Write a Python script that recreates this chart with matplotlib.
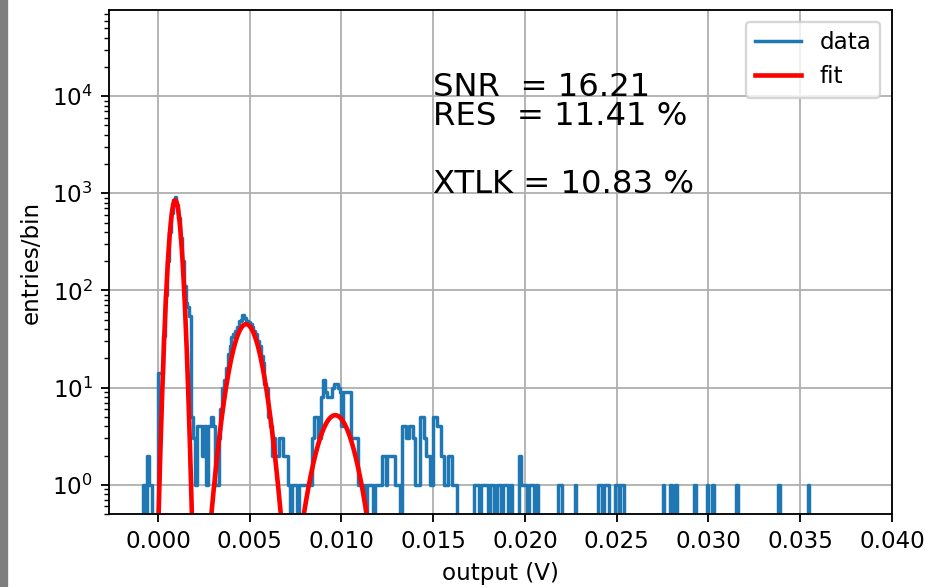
import numpy as np
import matplotlib
matplotlib.use("Agg")
import matplotlib.pyplot as plt
from matplotlib.patches import Rectangle

# ---- data (histogram, bin width 0.1 mV, first bin starts at -1.0 mV) ----
bin_start = -0.0010
bin_width = 0.0001
counts = [
    0, 0, 1, 0, 2, 1, 1, 0, 0, 0,
    14, 14, 14, 34, 90, 200, 400, 620, 850, 925,
    760, 560, 350, 200, 110, 75, 68, 55, 5, 3,
    1, 4, 4, 4, 2, 4, 1, 4, 4, 5,
    4, 1, 1, 3, 6, 10, 12, 16, 22, 27,
    33, 36, 38, 42, 48, 50, 56, 52, 48, 47,
    45, 42, 38, 36, 30, 27, 21, 18, 11, 10,
    5, 4, 2, 3, 2, 2, 3, 3, 2, 2,
    2, 1, 0, 1, 1, 1, 0, 1, 1, 1,
    1, 1, 1, 1, 3, 5, 5, 3, 3, 8,
    12, 9, 8, 8, 8, 10, 11, 11, 10, 9,
    4, 9, 9, 9, 9, 3, 3, 3, 3, 1,
    1, 1, 1, 0, 1, 1, 1, 0, 1, 1,
    1, 1, 2, 2, 1, 2, 2, 2, 2, 1,
    1, 1, 0, 4, 4, 3, 3, 4, 4, 3,
    1, 1, 1, 5, 5, 3, 2, 2, 1, 1,
    5, 5, 4, 4, 2, 2, 1, 1, 2, 2,
    1, 1, 1, 0, 0, 0, 0, 0, 0, 0,
    0, 0, 1, 1, 1, 0, 1, 1, 1, 1,
    0, 1, 1, 0, 0, 1, 1, 0, 1, 1,
    1, 0, 1, 0, 0, 0, 0, 2, 1, 1,
    1, 0, 1, 1, 1, 0, 1, 0, 0, 0,
    0, 0, 0, 0, 0, 0, 0, 0, 1, 1,
    0, 0, 0, 0, 0, 0, 0, 1, 0, 0,
    0, 0, 0, 0, 0, 0, 0, 0, 0, 0,
    1, 1, 0, 1, 1, 1, 0, 0, 0, 1,
    1, 0, 1, 1, 0, 0, 0, 0, 0, 0,
    0, 0, 0, 0, 0, 0, 0, 0, 0, 0,
    0, 0, 0, 0, 0, 1, 0, 0, 0, 1,
    0, 0, 1, 0, 0, 0, 0, 0, 0, 0,
    0, 0, 1, 0, 0, 0, 0, 0, 0, 1,
    0, 0, 1, 0, 0, 0, 0, 0, 0, 0,
    0, 0, 0, 0, 0, 1, 0, 0, 0, 0,
    0, 0, 0, 0, 0, 0, 0, 0, 0, 0,
    0, 0, 0, 0, 0, 0, 0, 0, 1, 0,
    0, 0, 0, 0, 0, 0, 0, 0, 0, 0,
    0, 0, 0, 0, 1, 0, 0, 0, 0, 0,
]

# ---- fit: sum of three gaussians (amplitude, mean [V], sigma [V]) ----
fit_amp = [850.0, 45.0, 5.2]
fit_mean = [0.00094, 0.0048, 0.00966]
fit_sigma = [0.000235, 0.00063, 0.00079]

text_lines = ["SNR  = 16.21", "RES  = 11.41 %", "XTLK = 10.83 %"]
text_y = [1e4, 5e3, 1e3]
text_x = 0.015

xticks = [0.000, 0.005, 0.010, 0.015, 0.020, 0.025, 0.030, 0.035, 0.040]

# ---- figure ----
DPI = 166
W, H = 925, 587
fig = plt.figure(figsize=(W / DPI, H / DPI), dpi=DPI)
ax = fig.add_axes([109 / W, (H - 514) / H, (892 - 109) / W, (514 - 10) / H])

counts_arr = np.array(counts, dtype=float)
centers = bin_start + bin_width * (np.arange(len(counts_arr)) + 0.5)
plot_vals = np.where(counts_arr > 0, counts_arr, 1e-3)
ax.plot(centers, plot_vals, drawstyle="steps-mid", color="#1f77b4",
        lw=1.5, label="data")

xf = np.linspace(-0.001, 0.036, 4000)
yf = np.zeros_like(xf)
for a, m, s in zip(fit_amp, fit_mean, fit_sigma):
    yf += a * np.exp(-0.5 * ((xf - m) / s) ** 2)
yf = np.where(yf > 1e-3, yf, 1e-3)
ax.plot(xf, yf, color="red", lw=2, label="fit")

ax.set_yscale("log")
ax.set_ylim(0.5, 7.7e4)
ax.set_xlim(-0.00267, 0.040)
ax.set_xticks(xticks)
ax.set_xticklabels([f"{t:.3f}" for t in xticks])
ax.grid(True, which="major")
ax.set_xlabel("output (V)")
ax.set_ylabel("entries/bin")

for t, yy in zip(text_lines, text_y):
    ax.text(text_x, yy, t, fontsize=14)

ax.legend(loc="upper right")

# grey strip on left edge of the screenshot
fig.patches.append(Rectangle((0, 0), 7 / W, 1, transform=fig.transFigure,
                             color="#7f7f7f", zorder=-1))

fig.savefig("out.png", dpi=DPI)
